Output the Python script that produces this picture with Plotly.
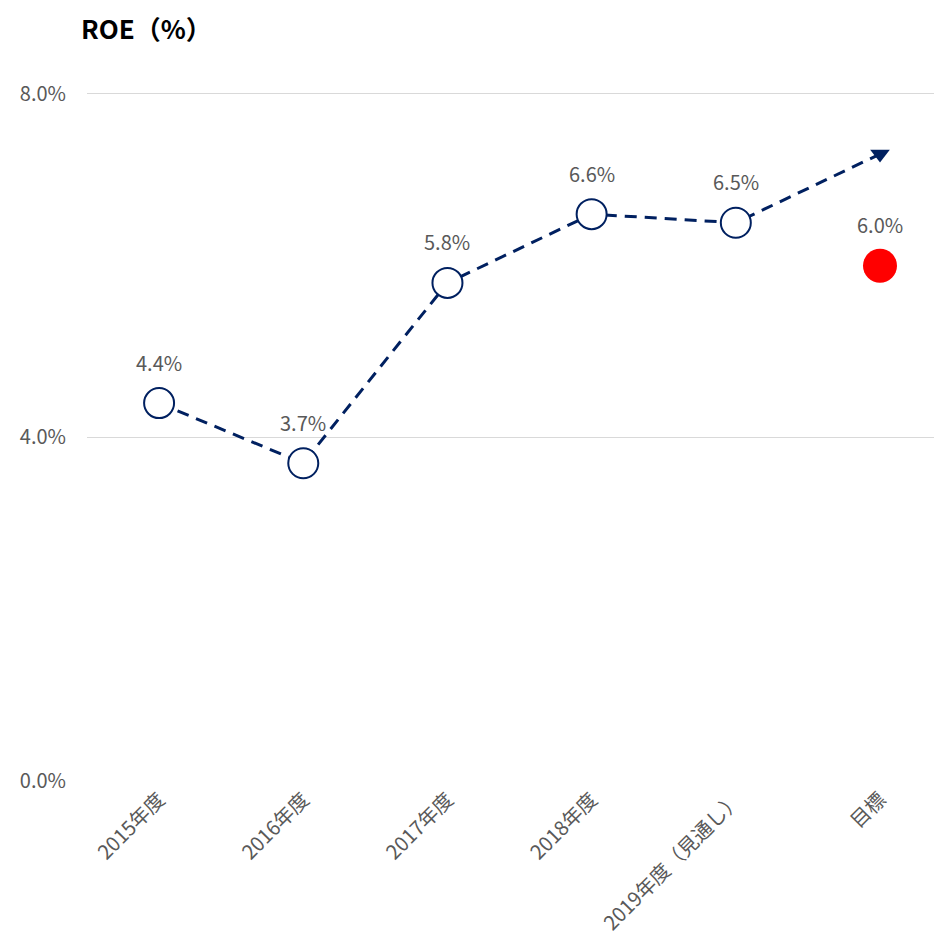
import plotly.graph_objects as go

categories = ["2015年度", "2016年度", "2017年度", "2018年度", "2019年度（見通し）", "目標"]
roe_actual = [4.4, 3.7, 5.8, 6.6, 6.5]
target_value = 6.0
arrow_end_value = 7.3
y_ticks = [0.0, 4.0, 8.0]

NAVY = "#002060"
GRAY = "#595959"
FONT = "Noto Sans CJK JP"

fig = go.Figure()

# dashed trend line to arrow
fig.add_trace(go.Scatter(
    x=categories[:5] + [categories[5]],
    y=roe_actual + [arrow_end_value],
    mode="lines",
    line=dict(color=NAVY, width=3, dash="12px,8px"),
    hoverinfo="skip", showlegend=False,
))
# arrow head
fig.add_trace(go.Scatter(
    x=[categories[5]], y=[arrow_end_value],
    mode="markers",
    marker=dict(symbol="triangle-down", size=17, color=NAVY),
    hoverinfo="skip", showlegend=False,
))
# actual markers
fig.add_trace(go.Scatter(
    x=categories[:5], y=roe_actual,
    mode="markers",
    marker=dict(symbol="circle", size=30, color="white", line=dict(color=NAVY, width=2)),
    showlegend=False,
))
# target
fig.add_trace(go.Scatter(
    x=[categories[5]], y=[target_value],
    mode="markers",
    marker=dict(symbol="circle", size=34, color="#FF0000"),
    showlegend=False,
))

all_vals = roe_actual + [target_value]
for c, v in zip(categories, all_vals):
    fig.add_annotation(x=c, y=v, text=f"{v:.1f}%", showarrow=False, yshift=41,
                       font=dict(family=FONT, size=20, color=GRAY))

fig.add_annotation(xref="paper", yref="paper", x=-0.009, y=1.0, xanchor="left", yanchor="bottom",
                   yshift=3, text="<b>ROE（%）</b>", showarrow=False,
                   font=dict(family=FONT, size=26, color="black"))

fig.update_layout(
    width=934, height=929,
    margin=dict(l=79, r=0, t=43, b=156),
    plot_bgcolor="white", paper_bgcolor="white",
    font=dict(family=FONT, size=20, color=GRAY),
    xaxis=dict(type="category", categoryarray=categories, range=[-0.5, 5.43],
               tickangle=-45, showgrid=False, showline=False, zeroline=False,
               ticks="", automargin=False, ticklabelstandoff=2,
               tickfont=dict(family=FONT, size=20, color=GRAY)),
    yaxis=dict(range=[0, 8.5], tickvals=y_ticks, ticktext=[f"{t:.1f}%" for t in y_ticks],
               showgrid=True, gridcolor="#d9d9d9", gridwidth=1, zeroline=False,
               showline=False, ticks="", ticklabelstandoff=20, automargin=False,
               tickfont=dict(family=FONT, size=20, color=GRAY)),
)

fig.write_html("out.html")
